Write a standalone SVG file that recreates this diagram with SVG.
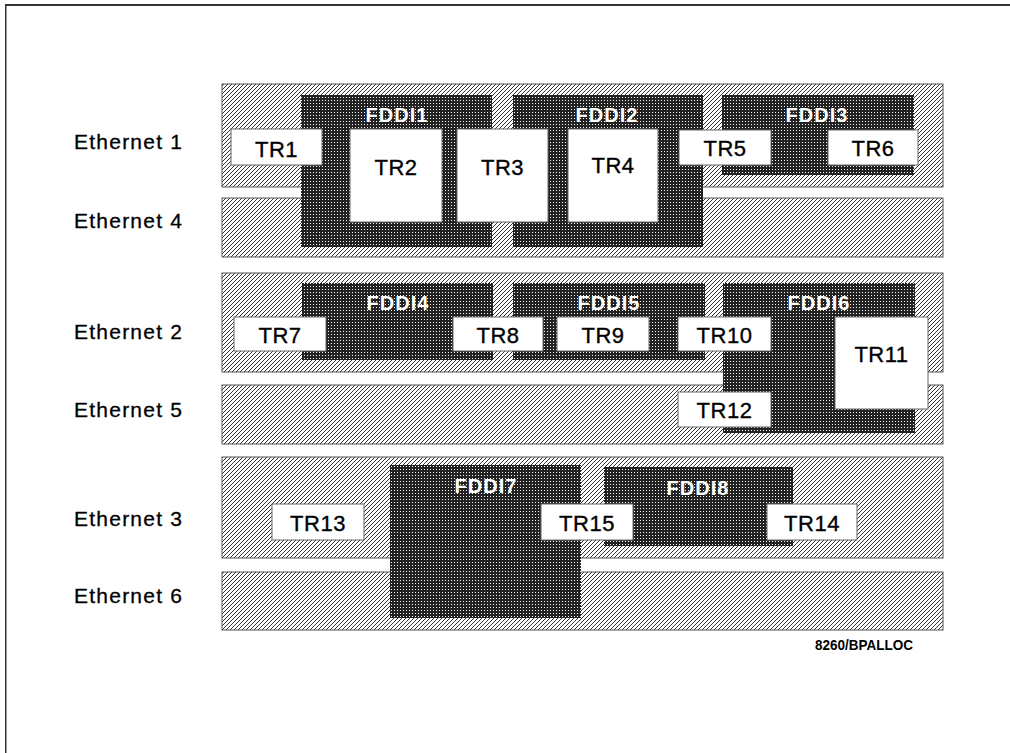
<svg xmlns="http://www.w3.org/2000/svg" width="1010" height="753" viewBox="0 0 1010 753">
<style>
.eth{fill:url(#hatch);stroke:#555;stroke-width:1}
.fddi{fill:url(#dots)}
.tr{fill:#fff;stroke:#666;stroke-width:1}
.lbl{font-family:"Liberation Sans",Arial,sans-serif;font-size:21px;fill:#000;stroke:#000;stroke-width:0.3}
.trt{font-family:"Liberation Sans",Arial,sans-serif;font-size:22px;fill:#000;stroke:#000;stroke-width:0.35;text-anchor:middle;letter-spacing:0.5px}
.ft{font-family:"Liberation Sans",Arial,sans-serif;font-size:20px;font-weight:bold;fill:#fff;text-anchor:middle;letter-spacing:1px}
.ref{font-family:"Liberation Sans",Arial,sans-serif;font-size:14px;font-weight:bold;fill:#000}
</style>
<defs>
<pattern id="hatch" patternUnits="userSpaceOnUse" width="4" height="4">
<rect width="4" height="4" fill="#fff"/>
<path d="M-1,1 L1,-1 M0,4 L4,0 M3,5 L5,3" stroke="#333" stroke-width="1"/>
</pattern>
<pattern id="dots" patternUnits="userSpaceOnUse" width="3" height="3">
<rect width="3" height="3" fill="#222"/>
<rect x="1" y="1" width="1" height="1" fill="#fff"/>
</pattern>
</defs>
<rect x="0" y="0" width="1010" height="753" fill="#fff"/>
<g id="frame">
<rect x="5" y="4" width="1005" height="2" fill="#333"/>
<rect x="5" y="4" width="1.5" height="749" fill="#333"/>
</g>
<g id="ethernet-labels">
<text class="lbl" x="74" y="149" textLength="108" lengthAdjust="spacing">Ethernet 1</text>
<text class="lbl" x="74" y="228" textLength="108" lengthAdjust="spacing">Ethernet 4</text>
<text class="lbl" x="74" y="339" textLength="108" lengthAdjust="spacing">Ethernet 2</text>
<text class="lbl" x="74" y="417" textLength="108" lengthAdjust="spacing">Ethernet 5</text>
<text class="lbl" x="74" y="526" textLength="108" lengthAdjust="spacing">Ethernet 3</text>
<text class="lbl" x="74" y="603" textLength="108" lengthAdjust="spacing">Ethernet 6</text>
</g>
<g id="ethernet1"><rect class="eth" x="222" y="84" width="721" height="103"/></g>
<g id="ethernet4"><rect class="eth" x="222" y="198" width="721" height="59"/></g>
<g id="ethernet2"><rect class="eth" x="222" y="273" width="721" height="99"/></g>
<g id="ethernet5"><rect class="eth" x="222" y="385" width="721" height="59"/></g>
<g id="ethernet3"><rect class="eth" x="222" y="457" width="721" height="101"/></g>
<g id="ethernet6"><rect class="eth" x="222" y="572" width="721" height="58"/></g>
<g id="fddi1"><rect class="fddi" x="301" y="95" width="191" height="152"/><text class="ft" x="397" y="122">FDDI1</text></g>
<g id="fddi2"><rect class="fddi" x="513" y="95" width="190" height="152"/><text class="ft" x="607" y="122">FDDI2</text></g>
<g id="fddi3"><rect class="fddi" x="722" y="95" width="192" height="80"/><text class="ft" x="817" y="122">FDDI3</text></g>
<g id="fddi4"><rect class="fddi" x="302" y="283" width="191" height="77"/><text class="ft" x="398" y="310">FDDI4</text></g>
<g id="fddi5"><rect class="fddi" x="513" y="283" width="192" height="77"/><text class="ft" x="609" y="310">FDDI5</text></g>
<g id="fddi6"><rect class="fddi" x="723" y="283" width="192" height="150"/><text class="ft" x="819" y="310">FDDI6</text></g>
<g id="fddi7"><rect class="fddi" x="390" y="465" width="191" height="153"/><text class="ft" x="486" y="493">FDDI7</text></g>
<g id="fddi8"><rect class="fddi" x="604" y="467" width="189" height="79"/><text class="ft" x="698" y="495">FDDI8</text></g>
<g id="tr1"><rect class="tr" x="231" y="129" width="91" height="36"/><text class="trt" x="276.5" y="157">TR1</text></g>
<g id="tr2"><rect class="tr" x="350" y="129" width="92" height="93"/><text class="trt" x="396" y="175">TR2</text></g>
<g id="tr3"><rect class="tr" x="457" y="129" width="91" height="93"/><text class="trt" x="502.5" y="175">TR3</text></g>
<g id="tr4"><rect class="tr" x="568" y="129" width="90" height="93"/><text class="trt" x="613" y="173">TR4</text></g>
<g id="tr5"><rect class="tr" x="679" y="130" width="92" height="35"/><text class="trt" x="725" y="156">TR5</text></g>
<g id="tr6"><rect class="tr" x="828" y="130" width="90" height="35"/><text class="trt" x="873" y="156">TR6</text></g>
<g id="tr7"><rect class="tr" x="234" y="317" width="92" height="34"/><text class="trt" x="280" y="343">TR7</text></g>
<g id="tr8"><rect class="tr" x="453" y="317" width="90" height="34"/><text class="trt" x="498" y="343">TR8</text></g>
<g id="tr9"><rect class="tr" x="557" y="317" width="92" height="34"/><text class="trt" x="603" y="343">TR9</text></g>
<g id="tr10"><rect class="tr" x="678" y="317" width="93" height="34"/><text class="trt" x="724.5" y="343">TR10</text></g>
<g id="tr11"><rect class="tr" x="835" y="317" width="93" height="92"/><text class="trt" x="881.5" y="362">TR11</text></g>
<g id="tr12"><rect class="tr" x="678" y="392" width="93" height="35"/><text class="trt" x="724.5" y="418">TR12</text></g>
<g id="tr13"><rect class="tr" x="272" y="504" width="92" height="36"/><text class="trt" x="318" y="531">TR13</text></g>
<g id="tr15"><rect class="tr" x="541" y="504" width="92" height="36"/><text class="trt" x="587" y="531">TR15</text></g>
<g id="tr14"><rect class="tr" x="767" y="504" width="90" height="36"/><text class="trt" x="812" y="531">TR14</text></g>
<g id="connectors"/>
<text class="ref" x="815" y="650" textLength="98" lengthAdjust="spacingAndGlyphs">8260/BPALLOC</text>
</svg>
